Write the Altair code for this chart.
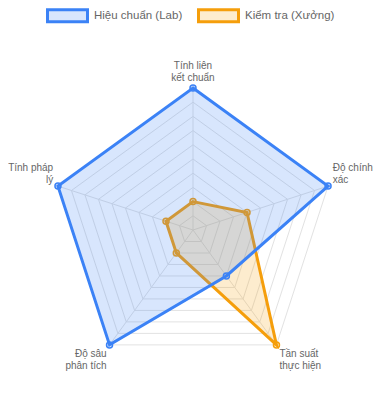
import altair as alt
import pandas as pd

# ---- data ----
axis_labels = ["Tính liên\nkết chuẩn", "Độ chính\nxác", "Tần suất\nthực hiện", "Độ sâu\nphân tích", "Tính pháp\nlý"]
series_names = ["Hiệu chuẩn (Lab)", "Kiểm tra (Xưởng)"]
lab_values = [100, 100, 40, 100, 100]
xuong_values = [20, 40, 100, 20, 20]
grid_levels = [10, 20, 30, 40, 50, 60, 70, 80, 90, 100]
r_max = 100

stroke_colors = ["#3b82f6", "#f59e0b"]
fill_colors = ["rgba(59,130,246,0.2)", "rgba(245,158,11,0.2)"]

N = len(axis_labels)
rows = []
for s, vals in zip(series_names, [lab_values, xuong_values]):
    for i, v in enumerate(vals):
        rows.append({"series": s, "idx": i, "value": v})
df = pd.DataFrame(rows)
grid_df = pd.DataFrame([{"level": l, "idx": i} for l in grid_levels for i in range(N)])
axis_df = pd.DataFrame({"idx": list(range(N)), "label": axis_labels})

R = 142  # pixel radius
ang = f"(2*PI*datum.idx/{N})"
sc = alt.Scale(domain=[-r_max, r_max], nice=False, zero=False)
X = alt.X("px:Q", scale=sc, axis=None)
Y = alt.Y("py:Q", scale=sc, axis=None)

fill_scale = alt.Scale(domain=series_names, range=fill_colors)
stroke_scale = alt.Scale(domain=series_names, range=stroke_colors)

rings = alt.Chart(grid_df).transform_calculate(
    px=f"datum.level*sin({ang})", py=f"datum.level*cos({ang})"
).mark_line(interpolate="linear-closed", stroke="#e2e2e2", strokeWidth=1).encode(
    x=X, y=Y, detail="level:N", order="idx:Q"
)

spokes = alt.Chart(axis_df).transform_calculate(
    px="0", py="0", px2=f"{r_max}*sin({ang})", py2=f"{r_max}*cos({ang})"
).mark_rule(stroke="#e2e2e2", strokeWidth=1).encode(
    x=X, y=Y, x2="px2:Q", y2="py2:Q"
)

legend = alt.Legend(
    title=None, orient="none", legendX=-5, legendY=-94, direction="horizontal",
    symbolType="M-1,-0.3H1V0.3H-1Z", symbolSize=1600, symbolStrokeWidth=3,
    labelFontSize=11.5, labelColor="#666666", labelFont="Liberation Sans",
    labelOffset=5, columnPadding=9, padding=0,
)


def series_layers(name):
    base = alt.Chart(df).transform_filter(alt.datum.series == name).transform_calculate(
        px=f"datum.value*sin({ang})", py=f"datum.value*cos({ang})"
    )
    poly = base.mark_line(interpolate="linear-closed", strokeWidth=3).encode(
        x=X, y=Y, order="idx:Q",
        fill=alt.Fill("series:N", scale=fill_scale, legend=legend),
        stroke=alt.Stroke("series:N", scale=stroke_scale, legend=legend),
    )
    pts = base.mark_point(shape="circle", size=36, strokeWidth=1.5, opacity=1).encode(
        x=X, y=Y,
        fill=alt.Fill("series:N", scale=fill_scale, legend=legend),
        stroke=alt.Stroke("series:N", scale=stroke_scale, legend=legend),
    )
    return [poly, pts]


label_r = 100 + 5 * 100 / R
lab_base = alt.Chart(axis_df).transform_calculate(
    px=f"{label_r}*sin({ang})", py=f"{label_r}*cos({ang})",
    s=f"sin({ang})", c=f"cos({ang})"
)
text_layers = []
for align, cond in [("center", "abs(datum.s)<0.01"), ("left", "datum.s>=0.01"), ("right", "datum.s<=-0.01")]:
    for baseline, cond2, dy in [("bottom", "datum.c>0.01", -12), ("top", "datum.c<=0.01", 0)]:
        text_layers.append(
            lab_base.transform_filter(f"({cond}) && ({cond2})").mark_text(
                align=align, baseline=baseline, lineBreak="\n", fontSize=10, dy=dy,
                lineHeight=12, color="#666666", font="Liberation Sans"
            ).encode(x=X, y=Y, text="label:N")
        )

layers = [rings, spokes] + series_layers(series_names[1]) + series_layers(series_names[0]) + text_layers

cx, cy = 193 - 8, 230 - 8
chart = alt.layer(*layers).properties(
    width=2 * R, height=2 * R,
    padding={"left": cx - R, "top": cy - R, "right": 368 - (cx + R), "bottom": 10},
    autosize="none",
).configure_view(stroke=None)

chart.save("out.html", embed_options={"renderer": "svg", "actions": False})
